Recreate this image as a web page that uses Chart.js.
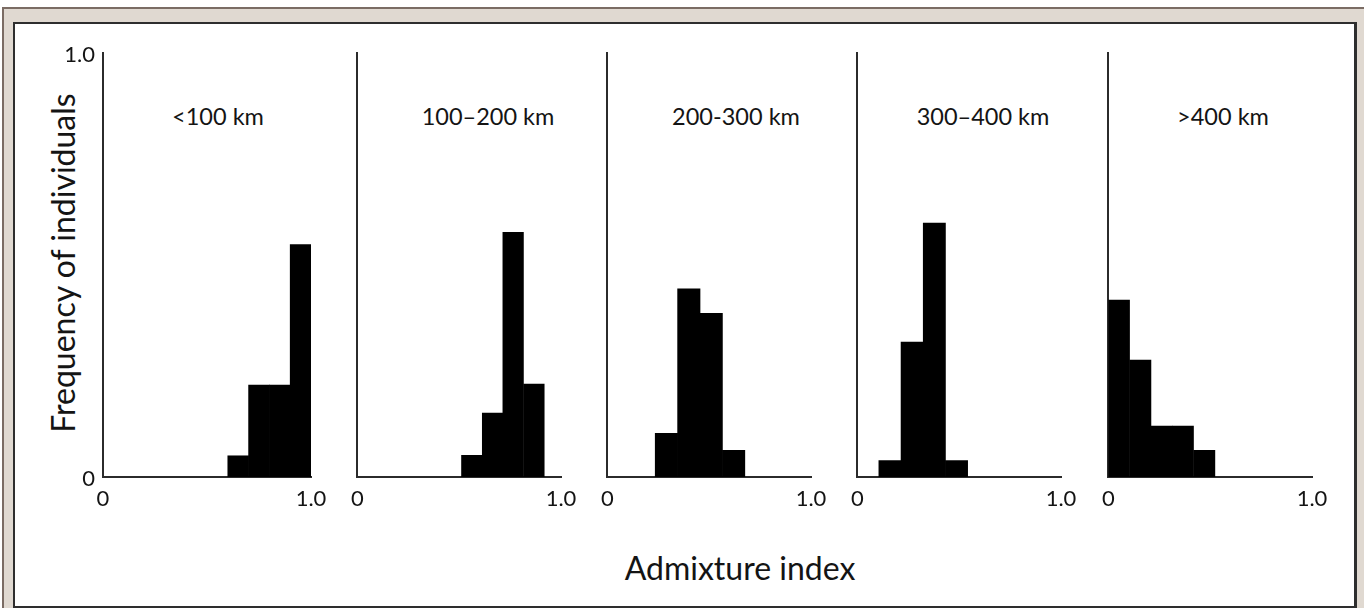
<!DOCTYPE html>
<html lang="en">
<head>
<meta charset="utf-8">
<title>Admixture index by distance</title>
<script src="https://cdn.jsdelivr.net/npm/chart.js@4.4.1/dist/chart.umd.min.js"></script>
<style>
  html, body { margin: 0; padding: 0; background: #fff; }
  body {
    width: 1364px; height: 608px; position: relative; overflow: hidden;
    font-family: Lato, "Open Sans", sans-serif; color: #141414;
  }
  .frame {
    position: absolute; left: 2px; top: 7px; width: 1390px; height: 630px;
    box-sizing: border-box; border: 2px solid #7b6c64; background: #e0d9d1;
  }
  .sheet {
    position: absolute; left: 13px; top: 22px; width: 1344px; height: 586px;
    box-sizing: border-box; border: 2px solid #2e2e2e; border-right-width: 3px; background: #fff;
  }
  .panel { position: absolute; top: 30px; height: 500px; }
  .label {
    position: absolute; top: 117px; transform: translate(-50%, -50%);
    font-size: 23.5px; line-height: 1; white-space: nowrap;
  }
  .ytitle {
    position: absolute; left: 63px; top: 263px; transform: translate(-50%, -50%) rotate(-90deg);
    font-size: 32px; line-height: 1; white-space: nowrap;
  }
  .xtitle {
    position: absolute; left: 740px; top: 568px; transform: translate(-50%, -50%);
    font-size: 32px; line-height: 1; white-space: nowrap;
  }
</style>
</head>
<body>
<div class="frame"></div>
<div class="sheet"></div>
<div class="ytitle">Frequency of individuals</div>
<div class="xtitle">Admixture index</div>
<div class="label" style="left:218px">&lt;100 km</div>
<div class="label" style="left:488px">100–200 km</div>
<div class="label" style="left:736px">200-300 km</div>
<div class="label" style="left:983px">300–400 km</div>
<div class="label" style="left:1223px">&gt;400 km</div>

<script>
// Datos: centro de cada clase (índice de mezcla) y frecuencia
const panelNames = ['<100 km', '100–200 km', '200-300 km', '300–400 km', '>400 km'];

const bins1 = [0.65, 0.75, 0.85, 0.95];
const freq1 = [0.05, 0.217, 0.217, 0.548];

const bins2 = [0.562, 0.664, 0.765, 0.867];
const freq2 = [0.051, 0.151, 0.577, 0.219];

const bins3 = [0.29, 0.40, 0.51, 0.62];
const freq3 = [0.103, 0.444, 0.386, 0.063];

const bins4 = [0.16, 0.269, 0.378, 0.487];
const freq4 = [0.039, 0.318, 0.599, 0.039];

const bins5 = [0.052, 0.157, 0.261, 0.366, 0.471];
const freq5 = [0.417, 0.276, 0.12, 0.12, 0.063];

const xTicks = [0, 1];
const xTickLabels = ['0', '1.0'];
const yTicks = [0, 1];
const yTickLabels = ['0', '1.0'];

document.addEventListener('DOMContentLoaded', function() {
    const panels = [
        { name: panelNames[0], bins: bins1, freq: freq1 },
        { name: panelNames[1], bins: bins2, freq: freq2 },
        { name: panelNames[2], bins: bins3, freq: freq3 },
        { name: panelNames[3], bins: bins4, freq: freq4 },
        { name: panelNames[4], bins: bins5, freq: freq5 }
    ];

    // Posición de cada área de dibujo en la página (px)
    const boxes = [
        { left: 103, right: 311 },
        { left: 354, right: 561 },
        { left: 604, right: 811 },
        { left: 854, right: 1061 },
        { left: 1105, right: 1312 }
    ];
    const CANVAS_TOP = 30, CANVAS_H = 500;
    const PLOT_TOP = 53, PLOT_BOTTOM = 477;
    const RIGHT_PAD = 25;
    const axisColor = '#2b2b2b';
    const textColor = '#141414';
    const tickFont = { family: 'Lato', size: 22 };

    panels.forEach((p, i) => {
        const first = i === 0;
        const box = boxes[i];
        const left = first ? 15 : box.left - 12;

        const wrap = document.createElement('div');
        wrap.className = 'panel';
        wrap.style.left = left + 'px';
        wrap.style.width = (box.right - left + RIGHT_PAD) + 'px';
        const canvas = document.createElement('canvas');
        wrap.appendChild(canvas);
        document.body.appendChild(wrap);

        new Chart(canvas, {
            type: 'bar',
            data: {
                datasets: [{
                    label: p.name,
                    data: p.bins.map((x, k) => ({ x: x, y: p.freq[k] })),
                    backgroundColor: '#000',
                    borderWidth: 0,
                    barPercentage: 1,
                    categoryPercentage: 1
                }]
            },
            options: {
                responsive: true,
                maintainAspectRatio: false,
                animation: false,
                layout: {
                    padding: { top: PLOT_TOP - CANVAS_TOP, right: RIGHT_PAD, left: 0, bottom: 0 }
                },
                plugins: {
                    legend: { display: false },
                    tooltip: { enabled: false }
                },
                scales: {
                    x: {
                        type: 'linear',
                        min: 0,
                        max: 1,
                        offset: false,
                        grid: { display: false, drawTicks: false },
                        border: { display: true, color: axisColor, width: 2 },
                        afterBuildTicks: s => { s.ticks = xTicks.map(v => ({ value: v })); },
                        afterFit: s => { s.height = CANVAS_TOP + CANVAS_H - PLOT_BOTTOM; },
                        ticks: {
                            padding: 9,
                            maxRotation: 0,
                            color: textColor,
                            font: tickFont,
                            callback: (v, idx) => xTickLabels[idx]
                        }
                    },
                    y: {
                        min: 0,
                        max: 1,
                        grid: { display: false, drawTicks: false },
                        border: { display: true, color: axisColor, width: 2 },
                        afterBuildTicks: s => { s.ticks = yTicks.map(v => ({ value: v })); },
                        afterFit: s => { s.width = box.left - left; },
                        ticks: {
                            display: first,
                            padding: 8,
                            labelOffset: 2,
                            color: textColor,
                            font: tickFont,
                            callback: (v, idx) => yTickLabels[idx]
                        }
                    }
                }
            }
        });
    });
});
</script>
</body>
</html>
